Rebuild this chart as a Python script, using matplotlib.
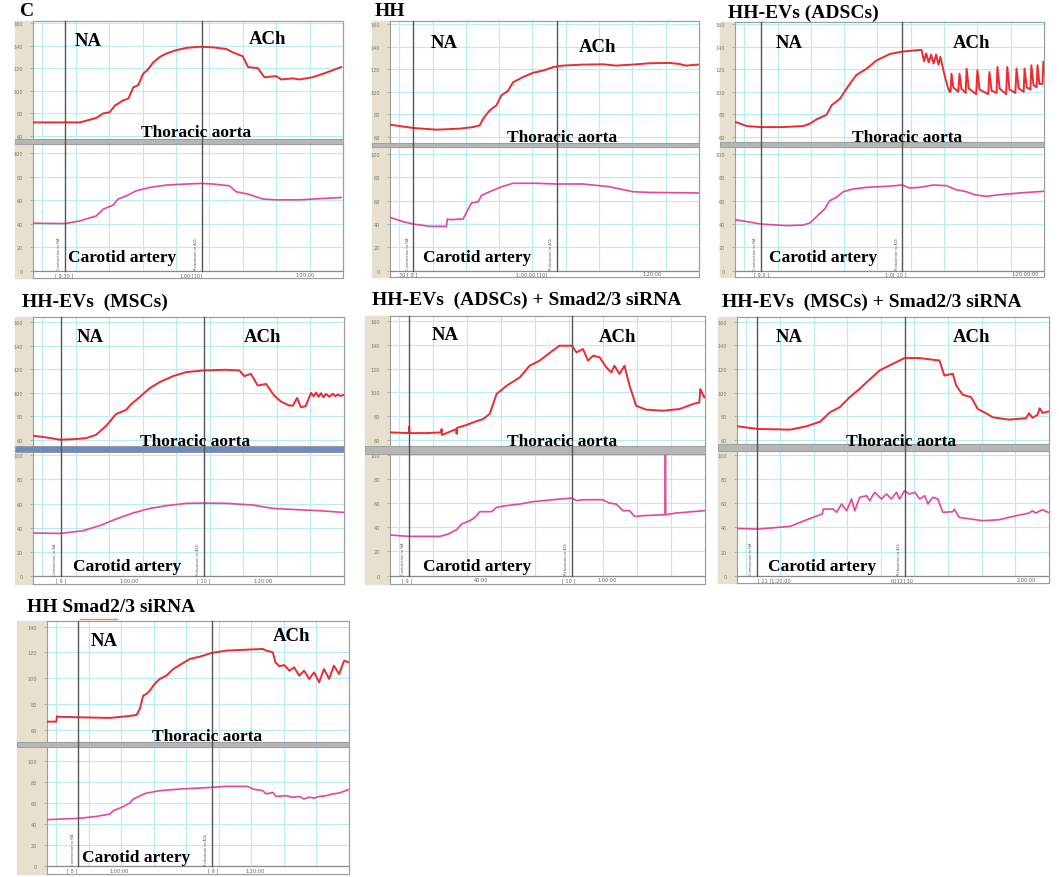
import matplotlib
matplotlib.use("Agg")
import matplotlib.pyplot as plt
from matplotlib import transforms
from matplotlib.lines import Line2D
from matplotlib.patches import Rectangle

W, H = 1059, 878

# time is % of the recorded window, values are the recorder's scale units
# ---------------- C ----------------
C_TOP_T = [0, 15.2, 20.5, 22.7, 24.8, 26.5, 29.1, 30.8, 32.4, 34.0, 35.6, 37.2, 38.8, 41.0, 43.1, 46.3,
           49.6, 53.9, 58.2, 62.5, 64.6, 67.8, 69.5, 72.7, 74.8, 78.6, 80.2, 84.0, 86.1, 90.4, 94.7, 99.6]
C_TOP_V = [72, 72, 76, 80, 81, 87, 91.5, 93, 103, 105, 115, 119, 125, 130, 133, 136,
           138, 139, 138.5, 137, 134, 130.6, 121, 120, 112, 113, 110, 111, 110, 112, 116, 121]
C_BOT_T = [0, 10.3, 15.2, 20.5, 22.7, 25.9, 27.5, 30.2, 33.4, 37.7, 43.1, 49.6, 54.4, 58.2, 63.5,
           65.7, 69.5, 74.3, 78.6, 86.1, 99.6]
C_BOT_V = [40.5, 40.2, 42.5, 46.7, 52.4, 55.8, 61, 63.7, 68, 70.8, 72.8, 73.7, 74.2, 73.7, 72.2,
           67.1, 65.2, 61, 60.3, 60.3, 62.3]

# ---------------- HH ----------------
HH_TOP_T = [0, 7.5, 15.1, 22.6, 26.9, 29.1, 30.2, 32.3, 34.5, 36.1, 38.3, 39.9, 43.1, 46.3, 49.6,
            52.8, 56.0, 62.5, 69.0, 73.3, 78.7, 84.1, 90.5, 93.8, 95.9, 100]
HH_TOP_V = [70.9, 68, 66.5, 67.4, 68.8, 70.3, 76.2, 83.5, 88, 96.8, 101, 108.5, 113, 116.8, 118.8,
            121.8, 123.2, 124.1, 124.4, 123.2, 124.1, 125.3, 125.6, 124.7, 123.2, 124.1]
HH_BOT_T = [0, 4.3, 7.5, 12.9, 18.3, 18.6, 19.4, 23.7, 24.8, 26.4, 28.6, 29.6, 32.3, 36.6, 39.9,
            47.4, 54.1, 62.5, 71.1, 78.7, 84.1, 100]
HH_BOT_V = [45.7, 42, 40, 38, 38, 44.3, 43.7, 44.3, 50, 58, 59, 64.3, 67.7, 72.3, 74.9,
            74.9, 74.3, 74.3, 72, 67.7, 67.1, 66.6]

# ---------------- HH-EVs (ADSCs) ----------------
ADSC_TOP_T = [0.3, 3.8, 8.3, 15.6, 22.1, 24.3, 26.4, 29.7, 31.3, 34.0, 36.7, 39.4, 42.6, 45.8, 50.2,
              54.2, 57.7, 59.9, 60.5, 61.3, 62.0, 62.8, 63.6, 64.4, 65.2, 66.0, 66.6, 67.5, 68.4,
              69.0, 69.6, 69.9, 70.2, 70.8, 72.4, 72.8, 73.4, 74.8, 75.1, 75.8, 78.2, 78.6, 79.3,
              82.1, 82.5, 83.2, 84.8, 85.1, 85.8, 87.9, 88.3, 89.0, 90.9, 91.3, 92.0, 93.6, 93.9,
              94.6, 95.8, 96.1, 96.8, 97.8, 98.1, 98.7, 99.7, 100]
ADSC_TOP_V = [73.2, 69.7, 68.8, 68.8, 69.7, 71.8, 75.6, 79.7, 88, 93.8, 105, 115, 120.3, 127.6, 133.5,
              135.6, 136.5, 137, 137, 127, 134, 126, 133, 125, 133, 124, 131, 120, 110,
              104, 100, 100, 116, 104, 100, 116, 103, 99, 120.5, 103, 98, 119, 102,
              98, 117.5, 101, 99, 122, 103, 98, 122, 102, 99, 120.6, 103, 100, 120.6,
              104, 102, 123.5, 106, 104, 123.5, 107, 107, 126.5]
ADSC_BOT_T = [0.3, 8.3, 16.7, 22.1, 24.3, 27.0, 29.1, 30.7, 32.9, 35.1, 38.3, 42.6, 49.1, 54.2, 56.6,
              59.9, 64.2, 68.5, 71.7, 75.0, 77.7, 81.4, 85.8, 92.2, 100]
ADSC_BOT_V = [43.7, 40, 38.6, 39.1, 40.9, 47.7, 52.9, 60, 62.9, 67.7, 70, 71.4, 72.3, 73.4, 70.9,
              71.4, 73.4, 72.9, 69.4, 67.7, 65.1, 63.7, 65.1, 66.6, 68]

# ---------------- HH-EVs (MSCs) ----------------
MSC_TOP_T = [0, 4.3, 8.8, 13.9, 17.2, 20.4, 23.6, 26.8, 30.0, 31.7, 34.3, 37.6, 40.8, 45.1, 49.4,
             54.9, 62.2, 66.5, 68.1, 70.2, 72.4, 75.1, 77.7, 79.9, 82.6, 83.7, 85.1, 86.3, 87.8,
             89.6, 90.4, 91.2, 92.0, 92.8, 93.6, 94.4, 95.5, 96.6, 97.4, 98.2, 99.1, 100]
MSC_TOP_V = [63.4, 62, 60, 60.6, 61.4, 64.3, 71.9, 81.9, 85.3, 90.4, 96.1, 103.8, 108.9, 114, 117.4,
             118.8, 119.4, 118.8, 114, 116, 106, 107.4, 97.5, 92.4, 89, 89, 95.5, 87.6, 88.4,
             99.8, 97, 100, 96.5, 99.5, 96, 98.9, 96.5, 99, 97, 98.5, 97.2, 98]
MSC_BOT_T = [0, 8.8, 16.1, 21.5, 26.8, 32.2, 37.6, 42.9, 49.4, 54.9, 62.2, 70.8, 77.3, 85.8, 92.3, 100]
MSC_BOT_V = [35.7, 35.4, 37.6, 41.8, 47.3, 52.2, 56, 58.2, 60.2, 60.4, 60.2, 58.8, 56, 54.9, 54.1, 52.7]

# ---------------- HH-EVs (ADSCs) + Smad2/3 siRNA ----------------
ADSI_TOP_T = [0, 6.0, 6.1, 6.2, 11.6, 16.3, 16.4, 16.5, 21.1, 21.2, 21.3, 24.3, 27.0, 29.6, 31.7, 33.9,
              37.1, 41.3, 44.4, 47.6, 51.3, 53.9, 57.9, 59.3, 61.4, 63.0, 64.6, 66.7, 68.8, 70.4,
              71.4, 73.0, 74.6, 76.2, 78.3, 81.5, 86.8, 92.1, 96.3, 98.4, 98.7, 100]
ADSI_TOP_V = [66.2, 65.6, 71, 65.6, 65.6, 66.2, 69, 64, 69, 65, 70, 72.4, 75.2, 77.5, 81.7, 98.6,
              105.6, 112.7, 122.5, 126.8, 134.4, 139.4, 139.4, 133.8, 136.6, 126.8, 131, 129.6, 121.1,
              116.9, 122.5, 115.5, 122.5, 105.6, 88.7, 85.4, 84.5, 85.9, 90.1, 91.5, 102.8, 95.8]
ADSI_BOT_T = [0, 6.1, 15.9, 18.5, 21.2, 22.8, 25.4, 27.0, 28.6, 32.3, 33.9, 37.0, 41.3, 45.5, 51.9,
              57.9, 59.3, 61.4, 67.7, 69.8, 72.0, 74.1, 76.2, 77.8, 80.4, 87.5, 87.6, 87.7, 91.0, 100]
ADSI_BOT_V = [33.6, 32.5, 32.5, 34.4, 38, 42.7, 45.5, 48.2, 52.9, 52.9, 56.5, 57.9, 59.2, 61.2, 62.8,
              64.2, 62, 62.8, 62.8, 60, 59.2, 53.7, 53.7, 49, 49.6, 50.4, 112, 50.4, 51.8, 53.7]

# ---------------- HH-EVs (MSCs) + Smad2/3 siRNA ----------------
MSI_TOP_T = [0, 6.6, 17.1, 22.4, 26.7, 29.9, 33.0, 36.2, 39.4, 42.6, 45.8, 50.1, 53.8, 58.6, 62.9,
             65.0, 66.6, 69.3, 70.4, 72.5, 75.2, 77.3, 80.0, 82.1, 87.4, 92.8, 93.8, 94.9, 96.5,
             97.2, 98.1, 100]
MSI_TOP_V = [71.4, 69.1, 68.5, 71.4, 75.3, 83.3, 87.6, 96.1, 103.2, 111.1, 118.8, 124.5, 129.3, 129.3,
             127.9, 127.3, 114.5, 116, 106, 98.1, 96.1, 86.1, 82.4, 79, 77, 78.2, 82.4, 78.5, 81,
             86.7, 82.7, 83.9]
MSI_BOT_T = [0, 6.6, 12.8, 17.1, 20.2, 24.5, 27.4, 27.7, 30.9, 32.0, 33.6, 35.2, 36.8, 37.8, 39.4,
             41.6, 42.6, 44.2, 46.4, 48.0, 49.6, 51.2, 52.2, 53.8, 55.4, 57.1, 58.7, 60.3, 61.3,
             62.9, 64.5, 66.1, 69.3, 69.8, 71.4, 73.6, 78.9, 84.2, 89.6, 93.8, 94.9, 95.9, 98.1, 100]
MSI_BOT_V = [39.1, 38.6, 39.9, 40.8, 44.1, 48.3, 51, 55.1, 55.1, 52.4, 59.3, 53.7, 63.4, 53.7, 64.8,
             66.1, 62, 68.9, 63.4, 67.5, 63.4, 68.9, 63.4, 70.2, 67.5, 68.9, 63.4, 66.1, 59.3,
             64.8, 63.4, 52.4, 52.9, 55, 48.2, 47.4, 45.5, 46.3, 49.6, 51.8, 53.7, 51.8, 54.5, 52.3]

# ---------------- HH Smad2/3 siRNA ----------------
HSI_TOP_T = [0, 3.1, 3.3, 3.9, 10.5, 20.9, 26.4, 29.7, 30.8, 31.9, 33.0, 34.1, 35.7, 37.4, 39.6, 41.9,
             44.6, 47.4, 50.7, 54.5, 59.5, 66.1, 71.6, 72.7, 74.9, 75.8, 77.1, 78.7, 80.4, 82.0, 83.7,
             85.3, 87.0, 88.6, 90.3, 91.9, 93.6, 95.2, 96.9, 98.6, 100]
HSI_TOP_V = [66.2, 66.2, 70.4, 70, 69.6, 69.1, 70.4, 71.4, 76.1, 86.4, 87.7, 90.3, 95.5, 99.4, 101.9,
             107.1, 111, 114.9, 116.7, 119.5, 121.4, 122.1, 122.7, 121.4, 120.1, 112.3, 109.2, 110.2,
             105.8, 108.4, 101.9, 105.8, 99.4, 104.5, 96.8, 107.1, 99.4, 109.7, 103.2, 113.6, 112.3]
HSI_BOT_T = [0, 10.5, 16.5, 20.9, 22.0, 25.3, 27.5, 28.6, 31.4, 33.0, 37.4, 44.1, 50.7, 59.5, 66.6,
             68.3, 71.6, 72.7, 74.9, 76.0, 79.3, 81.5, 83.7, 85.3, 87.0, 88.6, 90.3, 92.5, 94.7, 97.0, 100]
HSI_BOT_V = [44.2, 45.4, 47.3, 49.5, 52.7, 56.5, 59.9, 63.7, 67.5, 69.4, 71.6, 73.2, 74.1, 75.7, 75.7,
             73.2, 71.6, 68.5, 70, 66.2, 66.9, 65.3, 66.2, 63.7, 65.5, 64.5, 66.2, 66.8, 68.5, 69.5, 72.6]

TOP_TICKS = [60, 80, 100, 120, 140, 160]
TOP_TICKS_HSI = [60, 80, 100, 120, 140]
BOT_TICKS = [0, 20, 40, 60, 80, 100]

RED = "#ee2a30"
PINK = "#e8449e"
CYAN = "#b6ecf4"
BEIGE = "#e6e0cc"
FRAME = "#9c9c9c"
SERIF = "Liberation Serif"

# layout of each panel in image pixels:
# box = (strip_left, plot_left, right, top, bar_top, bar_bottom, zero_line, bottom)
PANELS = [
    dict(title="C", title_xy=(20, 11), box=(15, 33, 343, 22, 140, 145, 272, 279),
         top=(C_TOP_T, C_TOP_V), bot=(C_BOT_T, C_BOT_V), na=10.3, ach=54.5,
         top_ylim=(57.3, 161.8), bot_ylim=(-5.9, 107.6), top_ticks=TOP_TICKS,
         na_xy=(88, 42), ach_xy=(268, 40), aorta_xy=(196, 133), carotid_xy=(122, 258),
         times=[(10, "[ 9:30 ]"), (51, "1:00:[10]"), (88, "1:20:00")]),
    dict(title="HH", title_xy=(375, 12), box=(372, 390, 699, 22, 144, 148, 272, 278),
         top=(HH_TOP_T, HH_TOP_V), bot=(HH_BOT_T, HH_BOT_V), na=7.5, ach=54.1,
         top_ylim=(54.7, 162.7), bot_ylim=(-5.4, 106), top_ticks=TOP_TICKS,
         na_xy=(444, 43), ach_xy=(598, 47), aorta_xy=(562, 138), carotid_xy=(477, 258),
         times=[(6, "30:[ 9 ]"), (46, "1:00:00 [10]"), (85, "1:20:00")]),
    dict(title="HH-EVs (ADSCs)", title_xy=(728, 13), box=(720, 735, 1044, 23, 143, 148, 272, 278),
         top=(ADSC_TOP_T, ADSC_TOP_V), bot=(ADSC_BOT_T, ADSC_BOT_V), na=8.3, ach=54.2,
         top_ylim=(55.6, 161.8), bot_ylim=(-5.4, 106), top_ticks=TOP_TICKS,
         na_xy=(789, 43), ach_xy=(972, 43), aorta_xy=(907, 138), carotid_xy=(823, 258),
         times=[(8.5, "[ 9:3 ]"), (52, "1:0[ 10 ]"), (94, "1:20:00:00")]),
    dict(title="HH-EVs  (MSCs)", title_xy=(22, 302), box=(15, 33, 344, 318, 447, 453, 577, 585),
         top=(MSC_TOP_T, MSC_TOP_V), bot=(MSC_BOT_T, MSC_BOT_V), na=9.0, ach=55.0,
         top_ylim=(54.7, 164.2), bot_ylim=(-6.3, 102.5), top_ticks=TOP_TICKS, bar_color="#6b8cc2",
         na_xy=(90, 337), ach_xy=(263, 337), aorta_xy=(195, 442), carotid_xy=(127, 567),
         times=[(9, "[ 9 ]"), (31, "1:00:00"), (55, "[ 10 ]"), (74, "1:20:00")]),
    dict(title="HH-EVs  (ADSCs) + Smad2/3 siRNA", title_xy=(372, 300),
         box=(365, 390, 705, 317, 447, 455, 577, 585),
         top=(ADSI_TOP_T, ADSI_TOP_V), bot=(ADSI_BOT_T, ADSI_BOT_V), na=6.0, ach=57.8,
         top_ylim=(54.7, 164.5), bot_ylim=(-6.9, 100.6), top_ticks=TOP_TICKS,
         na_xy=(445, 335), ach_xy=(618, 338), aorta_xy=(562, 442), carotid_xy=(477, 567),
         times=[(5.5, "[ 9 ]"), (29, "40:00"), (57, "[ 10 ]"), (69, "1:00:00")]),
    dict(title="HH-EVs  (MSCs) + Smad2/3 siRNA", title_xy=(722, 302),
         box=(718, 737, 1049, 318, 445, 452, 577, 584),
         top=(MSI_TOP_T, MSI_TOP_V), bot=(MSI_BOT_T, MSI_BOT_V), na=6.4, ach=53.8,
         top_ylim=(56.3, 164.2), bot_ylim=(-5.9, 103), top_ticks=TOP_TICKS,
         na_xy=(789, 337), ach_xy=(972, 337), aorta_xy=(901, 442), carotid_xy=(822, 567),
         times=[(12, "[ 11 ]1:20:00"), (53, "6:[12]:30"), (93, "2:00:00")]),
    dict(title="HH Smad2/3 siRNA", title_xy=(27, 607), box=(17, 47, 349, 622, 743, 748, 867, 875),
         top=(HSI_TOP_T, HSI_TOP_V), bot=(HSI_BOT_T, HSI_BOT_V), na=10.3, ach=54.6,
         top_ylim=(50.4, 144.4), bot_ylim=(-7.3, 113), top_ticks=TOP_TICKS_HSI,
         na_xy=(104, 642), ach_xy=(292, 637), aorta_xy=(207, 737), carotid_xy=(136, 858),
         times=[(8.5, "[ 8 ]"), (24, "1:00:00"), (55, "[ 9 ]"), (69, "1:20:00")],
         tab=(80, 117, 620)),
]


def fx(x):
    return x / W


def fy(y):
    return 1 - y / H


def px_rect(l, t, r, b):
    return [l / W, 1 - b / H, (r - l) / W, (b - t) / H]


def style_axes(ax, ylim, ticks):
    ax.set_xlim(0, 100)
    ax.set_ylim(*ylim)
    ax.set_yticks(ticks)
    ax.set_yticklabels([str(t) for t in ticks])
    ax.set_xticks([3 + 10.8 * i for i in range(10)])
    ax.tick_params(axis="x", length=0, labelbottom=False)
    ax.tick_params(axis="y", length=2, width=0.5, pad=5, labelsize=3.6,
                   labelcolor="#777777", color="#999999")
    ax.set_axisbelow(True)
    ax.grid(True, color=CYAN, lw=0.8)
    for s in ax.spines.values():
        s.set_color(FRAME)
        s.set_linewidth(0.8)


def draw_panel(fig, p):
    sl, pl, r, top, bar_t, bar_b, zero, bottom = p["box"]

    # beige strip holding the scale numbers + separator bar
    fig.add_artist(Rectangle((fx(sl), fy(bottom)), (r - sl) / W, (bottom - top) / H,
                             transform=fig.transFigure, color=BEIGE, zorder=-1))

    ax_top = fig.add_axes(px_rect(pl, top, r, bar_t))
    style_axes(ax_top, p["top_ylim"], p["top_ticks"])
    ax_top.plot(p["top"][0], p["top"][1], color=RED, lw=1.4, zorder=3)

    fig.add_artist(Rectangle((fx(sl), fy(bar_b)), (r - sl) / W, (bar_b - bar_t) / H,
                             transform=fig.transFigure, facecolor=p.get("bar_color", "#b6b6b6"),
                             edgecolor="#9a9a9a", lw=0.6, zorder=5))

    ax_bot = fig.add_axes(px_rect(pl, bar_b, r, bottom))
    style_axes(ax_bot, p["bot_ylim"], BOT_TICKS)
    ax_bot.plot(p["bot"][0], p["bot"][1], color=PINK, lw=1.2, zorder=3)

    # time strip under the zero line
    ax_bot.axhspan(p["bot_ylim"][0], 0, color="white", zorder=2)
    ax_bot.axhline(0, color="#8a8a8a", lw=0.9, zorder=4)
    ylo = p["bot_ylim"][0] / 2
    for t, lab in p["times"]:
        ax_bot.text(t, ylo, lab, fontsize=3.6, color="#666666", ha="center", va="center", zorder=5)

    # NA / ACh event markers running through both channels
    blend = transforms.blended_transform_factory(ax_top.transData, fig.transFigure)
    for t in (p["na"], p["ach"]):
        fig.add_artist(Line2D([t, t], [fy(zero), fy(top)], transform=blend,
                              color="#555555", lw=1.0, zorder=6))
    ax_bot.text(p["na"] - 1.8, 1.5, "Contraction to NA", rotation=90, fontsize=2.6,
                color="#555555", ha="center", va="bottom", zorder=5)
    ax_bot.text(p["ach"] - 1.8, 1.5, "Relaxation to ACh", rotation=90, fontsize=2.6,
                color="#555555", ha="center", va="bottom", zorder=5)

    # small selection tab seen above one recording
    if "tab" in p:
        x0, x1, y = p["tab"]
        fig.add_artist(Line2D([fx(x0), fx(x1)], [fy(y), fy(y)], transform=fig.transFigure,
                              color="#f08080", lw=1.0))

    lab = dict(family=SERIF, weight="bold", color="black", ha="center", va="center", zorder=10)
    fig.text(fx(p["na_xy"][0]), fy(p["na_xy"][1]), "NA", fontsize=13.5, **lab)
    fig.text(fx(p["ach_xy"][0]), fy(p["ach_xy"][1]), "ACh", fontsize=13.5, **lab)
    fig.text(fx(p["aorta_xy"][0]), fy(p["aorta_xy"][1]), "Thoracic aorta", fontsize=12.5, **lab)
    fig.text(fx(p["carotid_xy"][0]), fy(p["carotid_xy"][1]), "Carotid artery", fontsize=12.5, **lab)
    fig.text(fx(p["title_xy"][0]), fy(p["title_xy"][1]), p["title"], family=SERIF, weight="bold",
             fontsize=14, ha="left", va="center")


def main():
    fig = plt.figure(figsize=(W / 100, H / 100), dpi=100)
    fig.patch.set_facecolor("white")
    for p in PANELS:
        draw_panel(fig, p)
    fig.savefig("out.png", dpi=100)
    plt.close(fig)


if __name__ == "__main__":
    main()
